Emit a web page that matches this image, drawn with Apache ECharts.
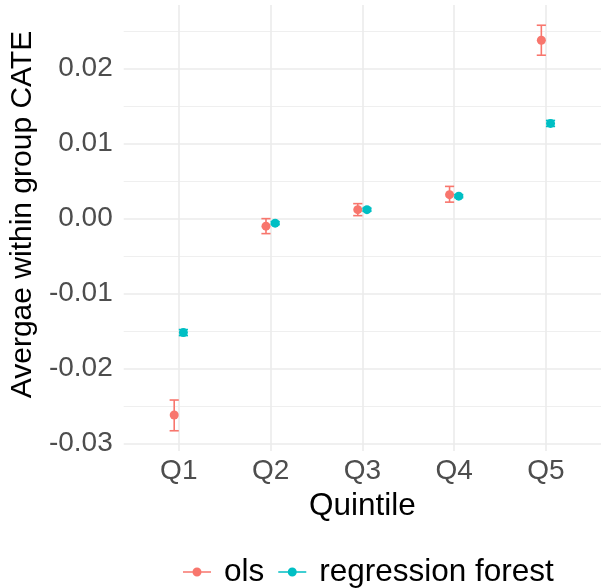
<!DOCTYPE html>
<html><head><meta charset="utf-8">
<script src="https://cdn.jsdelivr.net/npm/echarts@6/dist/echarts.min.js"></script>
<style>html,body{margin:0;padding:0;background:#fff}#c{width:601px;height:588px}</style>
</head><body><div id="c"></div>
<script>
const categories = ['Q1', 'Q2', 'Q3', 'Q4', 'Q5'];
const olsEst  = [-0.0262, -0.0010, 0.0012, 0.0032, 0.0238];
const olsLow  = [-0.0283, -0.0020, 0.0004, 0.0022, 0.0218];
const olsHigh = [-0.0242,  0.0000, 0.0020, 0.0043, 0.0258];
const rfEst   = [-0.0152, -0.0006, 0.0012, 0.0030, 0.0127];
const rfLow   = [-0.0156, -0.0008, 0.0010, 0.0028, 0.0123];
const rfHigh  = [-0.0148, -0.0004, 0.0014, 0.0032, 0.0131];
const yTicks  = [-0.03, -0.02, -0.01, 0.00, 0.01, 0.02];
const yMinor  = [-0.025, -0.015, -0.005, 0.005, 0.015, 0.025];

const OLS_COLOR = '#F8766D', RF_COLOR = '#00BFC4';
const DODGE = 0.05, CAP = 0.1;
const catPos = categories.map((c, i) => i + 1);

function pts(est, off) { return est.map((v, i) => [catPos[i] + off, v]); }
function errs(lo, hi, off) { return lo.map((v, i) => [catPos[i] + off, v, hi[i]]); }

function errItem(params, api) {
  const x = api.value(0), lo = api.value(1), hi = api.value(2);
  const a = api.coord([x, lo]), b = api.coord([x, hi]);
  const hw = api.size([CAP, 0])[0] / 2;
  const style = { stroke: api.visual('color'), lineWidth: 1.6, fill: null };
  return { type: 'group', children: [
    { type: 'line', shape: { x1: a[0], y1: a[1], x2: b[0], y2: b[1] }, style },
    { type: 'line', shape: { x1: a[0] - hw, y1: a[1], x2: a[0] + hw, y2: a[1] }, style },
    { type: 'line', shape: { x1: b[0] - hw, y1: b[1], x2: b[0] + hw, y2: b[1] }, style }
  ]};
}

const legendIcon = 'path://M0,4.2L28,4.2L28,5.8L0,5.8Z M14,0.5A4.5,4.5 0 1 1 13.99,0.5Z';
const FONT = '"Liberation Sans", Arial, sans-serif';

const chart = echarts.init(document.getElementById('c'));
chart.setOption({
  animation: false,
  backgroundColor: '#fff',
  grid: { left: 121, top: 5, width: 484, height: 446 },
  xAxis: {
    type: 'value', min: 0.4, max: 5.6,
    name: 'Quintile', nameLocation: 'middle', nameGap: 39,
    nameTextStyle: { fontSize: 31.5, color: '#000', fontFamily: FONT },
    axisLine: { show: false }, axisTick: { show: false, customValues: catPos },
    axisLabel: { customValues: catPos, formatter: v => categories[Math.round(v) - 1], fontSize: 28, color: '#4D4D4D', fontFamily: FONT, margin: 6 },
    splitLine: { show: true, lineStyle: { color: '#EBEBEB', width: 1.6 } }
  },
  yAxis: [{
    type: 'value', min: -0.031, max: 0.0285,
    name: 'Avergae within group CATE', nameLocation: 'middle', nameGap: 78,
    nameTextStyle: { fontSize: 30, color: '#000', fontFamily: FONT, padding: [0, 0, 0, 27] },
    axisLine: { show: false }, axisTick: { show: false, customValues: yTicks },
    axisLabel: { customValues: yTicks, formatter: v => v.toFixed(2), fontSize: 28, color: '#4D4D4D', fontFamily: FONT, margin: 11 },
    splitLine: { show: true, lineStyle: { color: '#EBEBEB', width: 1.6 } }
  }, {
    type: 'value', min: -0.031, max: 0.0285, position: 'left',
    axisLine: { show: false }, axisTick: { show: false, customValues: yMinor },
    axisLabel: { show: false, customValues: yMinor },
    splitLine: { show: true, lineStyle: { color: '#EBEBEB', width: 0.8 } }
  }],
  legend: {
    left: 183, top: 556, padding: 0, itemWidth: 28, itemHeight: 10, itemGap: 14,
    textStyle: { fontSize: 31.5, color: '#000', fontFamily: FONT, padding: [0, 0, 0, 8] },
    data: [
      { name: 'ols', icon: legendIcon },
      { name: 'regression forest', icon: legendIcon }
    ]
  },
  series: [
    { name: 'ols', type: 'custom', renderItem: errItem, data: errs(olsLow, olsHigh, -DODGE), itemStyle: { color: OLS_COLOR }, encode: { x: 0, y: [1, 2] }, z: 2 },
    { name: 'ols', type: 'scatter', data: pts(olsEst, -DODGE), symbolSize: 9, itemStyle: { color: OLS_COLOR, opacity: 1 }, z: 3 },
    { name: 'regression forest', type: 'custom', renderItem: errItem, data: errs(rfLow, rfHigh, DODGE), itemStyle: { color: RF_COLOR }, encode: { x: 0, y: [1, 2] }, z: 2 },
    { name: 'regression forest', type: 'scatter', data: pts(rfEst, DODGE), symbolSize: 9, itemStyle: { color: RF_COLOR, opacity: 1 }, z: 3 }
  ]
});
</script></body></html>
